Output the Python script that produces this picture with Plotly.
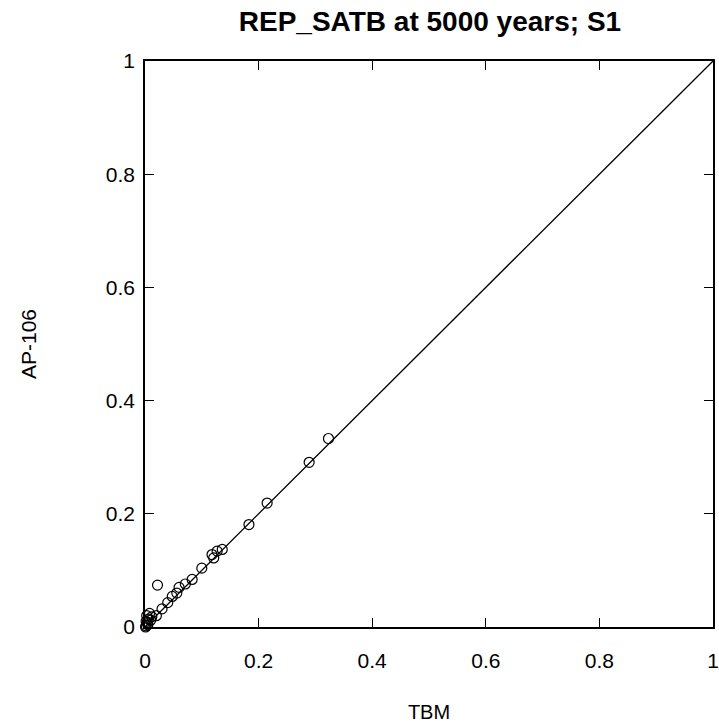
import plotly.graph_objects as go

# TBM (x) vs AP-106 (y) values
tbm = [0.323, 0.289, 0.215, 0.183, 0.136, 0.127, 0.118, 0.121, 0.100, 0.083,
       0.071, 0.060, 0.056, 0.048, 0.040, 0.030, 0.020, 0.022,
       0.002, 0.004, 0.006, 0.003, 0.008, 0.010, 0.001, 0.005, 0.012, 0.002]
ap106 = [0.333, 0.291, 0.219, 0.181, 0.137, 0.134, 0.128, 0.122, 0.104, 0.084,
         0.076, 0.070, 0.060, 0.054, 0.043, 0.032, 0.020, 0.074,
         0.002, 0.008, 0.014, 0.020, 0.024, 0.012, 0.000, 0.004, 0.018, 0.010]

diag = [0, 1]
tick_vals = [0, 0.2, 0.4, 0.6, 0.8, 1]
tick_text = ["0", "0.2", "0.4", "0.6", "0.8", "1"]

FONT = "Liberation Sans, Arial"

fig = go.Figure()
fig.add_trace(go.Scatter(x=diag, y=diag, mode="lines",
                         line=dict(color="black", width=1.3),
                         showlegend=False, hoverinfo="skip"))
fig.add_trace(go.Scatter(x=tbm, y=ap106, mode="markers",
                         marker=dict(symbol="circle-open", size=10,
                                     color="black", line=dict(width=1.2)),
                         showlegend=False, cliponaxis=False))

axis_common = dict(range=[0, 1], tickvals=tick_vals, ticktext=tick_text,
                   ticks="inside", ticklen=9, tickwidth=1.2, tickcolor="black",
                   showline=True, linecolor="black", linewidth=1.5,
                   mirror="ticks", showgrid=False, zeroline=False, automargin=False,
                   ticklabeloverflow="allow",
                   tickfont=dict(family=FONT, size=21, color="black"))

fig.update_layout(
    width=719, height=726,
    paper_bgcolor="white", plot_bgcolor="white",
    margin=dict(l=145, r=6, t=61, b=99),
    title=dict(text="<b>REP_SATB at 5000 years; S1</b>", x=0.598, xanchor="center",
               y=0.971, yanchor="middle",
               font=dict(family=FONT, size=28, color="black")),
    xaxis=dict(**axis_common, ticklabelstandoff=14,
               title=dict(text="TBM", standoff=34,
                          font=dict(family=FONT, size=20, color="black"))),
    yaxis=dict(**axis_common, ticklabelstandoff=4,
               title=dict(text="AP-106", standoff=63,
                          font=dict(family=FONT, size=21, color="black"))),
)

fig.write_html(
    "out.html",
    config={"displayModeBar": False},
    post_script="document.body.style.margin='0';document.body.style.overflow='hidden';",
)
